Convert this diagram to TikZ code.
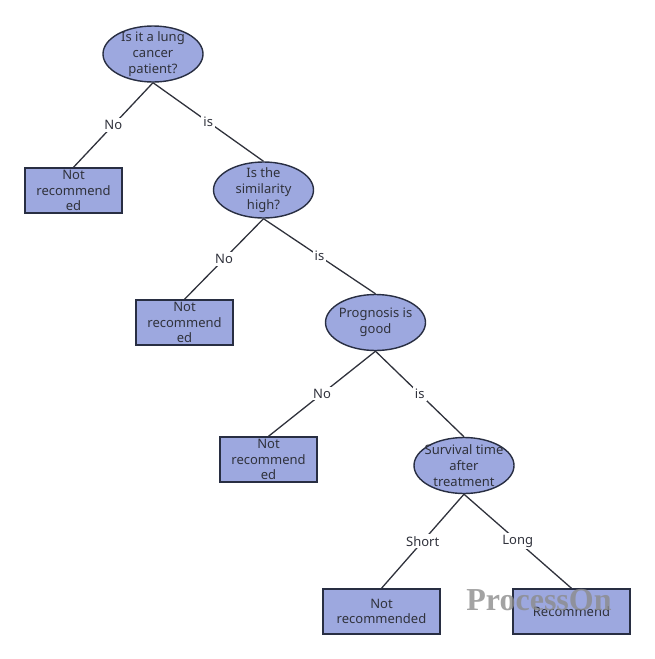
\documentclass[tikz,border=0pt]{standalone}
\usepackage{fontspec}
\setmainfont{Noto Sans}
\usepackage{tikz}
\usetikzlibrary{positioning, shapes.geometric}

\definecolor{nodefill}{RGB}{157,168,223}
\definecolor{nodeline}{RGB}{40,46,66}
\definecolor{textgrey}{RGB}{48,50,60}

\begin{document}
\begin{tikzpicture}[
x=1pt, y=-1pt,
mytext/.style={
  align=center,
  text=textgrey,
  font=\fontsize{13}{15.8}\selectfont,
  inner sep=0pt
},
question/.style={ellipse,
  draw=nodeline,
  line width=1.4pt,
  fill=nodefill,
  minimum width=100pt,
  minimum height=56pt,
  inner sep=0pt,
  label={[mytext]center:#1}
},
answer/.style={rectangle,
  draw=nodeline,
  line width=1.4pt,
  fill=nodefill,
  minimum width=97pt,
  minimum height=45pt,
  inner sep=0pt,
  label={[mytext]center:#1}
},
wideanswer/.style={answer={#1},
  minimum width=117pt
},
mylabel/.style={mytext,
  fill=white,
  inner sep=2pt
},
myedge/.style={draw=textgrey, line width=1.3pt}
]
\useasboundingbox (0,0) rectangle (654,659);

\node[question={Is it a lung\\cancer\\patient?}] (lung) at (153,54) {};
\node[answer={Not\\recommend\\ed}] (no1) at (73.5,190.5) {};
\node[question={Is the\\similarity\\high?}] (simil) at (263.5,190) {};
\node[answer={Not\\recommend\\ed}] (no2) at (184.5,322.5) {};
\node[question={Prognosis is\\good}] (progn) at (375.5,322.5) {};
\node[answer={Not\\recommend\\ed}] (no3) at (268.5,459.5) {};
\node[question={Survival time\\after\\treatment}] (surv) at (464,465.5) {};
\node[wideanswer={Not\\recommended}] (no4) at (381.5,611.5) {};
\node[wideanswer={Recommend}] (yes) at (571.5,611.5) {};

\draw[myedge] (lung.south) -- (no1.north) node[mylabel, midway] {No};
\draw[myedge] (lung.south) -- (simil.north) node[mylabel, midway] {is};

\draw[myedge] (simil.south) -- (no2.north) node[mylabel, midway] {No};
\draw[myedge] (simil.south) -- (progn.north) node[mylabel, midway] {is};

\draw[myedge] (progn.south) -- (no3.north) node[mylabel, midway] {No};
\draw[myedge] (progn.south) -- (surv.north) node[mylabel, midway] {is};

\draw[myedge] (surv.south) -- (no4.north) node[mylabel, midway] {Short};
\draw[myedge] (surv.south) -- (yes.north) node[mylabel, midway] {Long};

% watermark
\node[text=black!45, opacity=0.8, font=\fontspec{Liberation Serif}\bfseries\fontsize{32}{32}\selectfont] (mark) at (539,600) {ProcessOn};
\end{tikzpicture}
\end{document}
